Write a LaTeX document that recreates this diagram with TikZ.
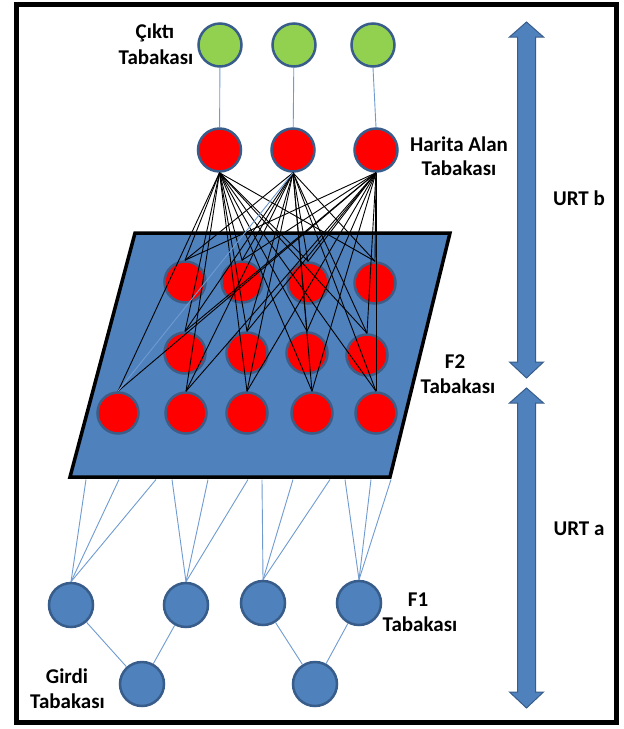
\documentclass[tikz,border=0pt]{standalone}
\usepackage{fontspec}
\setmainfont{Carlito}
\definecolor{bfill}{HTML}{4F81BD}
\definecolor{bdraw}{HTML}{385D8A}
\definecolor{gfill}{HTML}{92D050}
\definecolor{rfill}{HTML}{FF0000}
\definecolor{lblue}{HTML}{6F9BD1}
\definecolor{glow}{HTML}{3E5C84}
\begin{document}
\begin{tikzpicture}[x=1pt,y=-1pt,
  lbl/.style={font=\fontsize{21}{25}\selectfont\bfseries, inner sep=0pt, anchor=base},
  gnode/.style={circle, fill=gfill, draw=bdraw, line width=2.5pt, minimum size=43pt, inner sep=0pt},
  hnode/.style={circle, fill=rfill, draw=bdraw, line width=2.5pt, minimum size=43pt, inner sep=0pt},
  fnode/.style={circle, fill=rfill, draw=glow, line width=2.5pt, minimum size=41pt, inner sep=0pt},
  bnode/.style={circle, fill=bfill, draw=bdraw, line width=2.5pt, minimum size=44pt, inner sep=0pt},
  blk/.style={draw=black, line width=0.9pt},
  lb/.style={draw=lblue, line width=0.9pt},
  bigarrow/.style={fill=bfill, draw=bdraw, line width=1pt}]
\useasboundingbox (0,0) rectangle (624,729);
\fill[white] (0,0) rectangle (624,729);
% frame
\draw[line width=5pt] (16.5,4.5) rectangle (616.5,722);
% F2 plane
\draw[fill=bfill, line width=3.5pt, line join=miter] (135,233) -- (450,233) -- (390,477) -- (70,477) -- cycle;
% grid nodes
\node[fnode] (r11) at (185,282) {};
\node[fnode] (r12) at (242,282) {};
\node[fnode] (r13) at (308,283) {};
\node[fnode] (r14) at (375,283) {};
\node[fnode] (r21) at (185,353) {};
\node[fnode] (r22) at (247,353) {};
\node[fnode] (r23) at (307,353) {};
\node[fnode] (r24) at (367,355) {};
\node[fnode] (r31) at (118,413) {};
\node[fnode] (r32) at (186,413) {};
\node[fnode] (r33) at (247,413) {};
\node[fnode] (r34) at (312,413) {};
\node[fnode] (r35) at (376,413) {};
% output and map nodes
\node[gnode] (g1) at (220,45) {};
\node[gnode] (g2) at (294,45) {};
\node[gnode] (g3) at (373,45) {};
\node[hnode] (h1) at (219.5,150) {};
\node[hnode] (h2) at (293,150) {};
\node[hnode] (h3) at (376,150) {};
\draw[lb] (g1) -- (h1);
\draw[lb] (g2) -- (h2);
\draw[lb] (g3.south) -- (h3.north);
% map -> F2 connections
\foreach \t in {r11,r12,r13,r14,r21,r22,r23,r24,r31,r32,r33,r34,r35}{
  \draw[blk] (h1.south) -- (\t.north);
  \draw[blk] (h3.south) -- (\t.north);
}
\foreach \t in {r11,r12,r13,r14,r21,r22,r23,r24,r32,r33,r34,r35}{
  \draw[blk] (h2.south) -- (\t.north);
}
\draw[lb] (h2.south) -- (r31.north);
% F1 and input nodes
\node[bnode] (a1) at (71,605) {};
\node[bnode] (a2) at (186,605) {};
\node[bnode] (a3) at (263,603) {};
\node[bnode] (a4) at (359,603) {};
\node[bnode] (i1) at (142,684) {};
\node[bnode] (i2) at (315,684) {};
\draw[lb] (i1) -- (a1);
\draw[lb] (i1) -- (a2);
\draw[lb] (i2) -- (a3);
\draw[lb] (i2) -- (a4);
% plane -> F1 connections
\foreach \x/\n in {86/1,119/1,156/1,172/2,208/2,248/2,262/3,293/3,330/3,345/4,371/4,391/4}{
  \coordinate (p\x) at (\x,479.5);
  \draw[lb] (p\x) -- (a\n.north);
}
% big arrows
\draw[bigarrow] (526.5,22) -- (543.5,37) -- (535.5,37) -- (535.5,362) -- (543.5,362) -- (526.5,378)
  -- (509.5,362) -- (517.5,362) -- (517.5,37) -- (509.5,37) -- cycle;
\draw[bigarrow] (526.5,388) -- (543.5,403) -- (535.5,403) -- (535.5,692) -- (543.5,692) -- (526.5,708)
  -- (509.5,692) -- (517.5,692) -- (517.5,403) -- (509.5,403) -- cycle;
% labels
\node[lbl] (ct1) at (155,38) {Çıktı};
\node[lbl] (ct2) at (156,64) {Tabakası};
\node[lbl] (ha1) at (459,151.7) {Harita Alan};
\node[lbl] (ha2) at (459,175.7) {Tabakası};
\node[lbl] (f2a) at (455,368) {F2};
\node[lbl] (f2b) at (458,393) {Tabakası};
\node[lbl] (f1a) at (418,606.7) {F1};
\node[lbl] (f1b) at (420,631.7) {Tabakası};
\node[lbl] (gi1) at (67,683.3) {Girdi};
\node[lbl] (gi2) at (67.5,708.3) {Tabakası};
\node[lbl] (urtb) at (579,205) {URT b};
\node[lbl] (urta) at (579,535) {URT a};
\end{tikzpicture}
\end{document}
